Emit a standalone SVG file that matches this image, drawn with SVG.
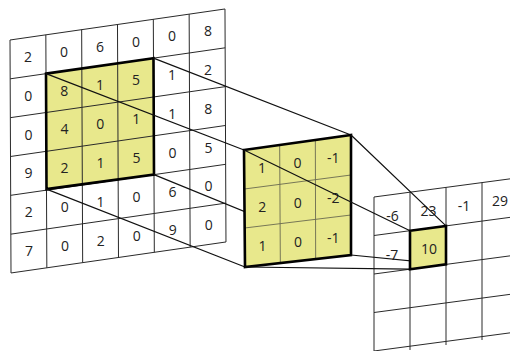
<svg xmlns="http://www.w3.org/2000/svg" width="510" height="351" viewBox="0 0 510 351">
<style>
.g{stroke:#2a2a2a;stroke-width:1;fill:none}
.gi{stroke:#6a6a50;stroke-width:0.9;fill:none}
.hl{fill:#e8e88c}
.bd{stroke:#000;stroke-width:2.6;fill:none;stroke-linejoin:miter}
.c{stroke:#111;stroke-width:1.2;fill:none}
text{font-family:"Open Sans","Noto Sans","Liberation Sans",sans-serif;font-size:14px;fill:#222;text-anchor:middle}
</style>
<rect width="510" height="351" fill="#fff"/>
<g id="input-grid">
<polygon class="hl" points="46,73.66 153.49,58.15 154,174.64 46.51,189.15"/>
<path class="g" d="M10,40L11,273M45.83,34.83L46.83,267.83M81.66,29.66L82.66,262.66M117.49,24.49L118.49,257.49M153.32,19.32L154.32,252.32M189.15,14.15L190.15,247.15M224.98,8.98L225.98,241.98M10,40L224.98,8.98M10.17,78.83L225.15,47.81M10.34,117.66L225.32,86.64M10.51,156.49L225.49,125.47M10.68,195.32L225.66,164.3M10.85,234.15L225.83,203.13M11.02,272.98L226,241.96"/>
<polygon class="bd" points="46,73.66 153.49,58.15 154,174.64 46.51,189.15"/>
<text x="28" y="62">2</text><text x="64" y="57">0</text><text x="100" y="52">6</text><text x="136" y="46.5">0</text><text x="172" y="41">0</text><text x="208" y="36">8</text>
<text x="28.2" y="100.7">0</text><text x="64.2" y="95.5">8</text><text x="100" y="90.3">1</text><text x="136" y="85.2">5</text><text x="172" y="80">1</text><text x="208" y="74.8">2</text>
<text x="28.4" y="139.5">0</text><text x="64.4" y="134.3">4</text><text x="100.2" y="129.2">0</text><text x="136.2" y="124">1</text><text x="172.2" y="118.8">1</text><text x="208.2" y="113.6">8</text>
<text x="28.6" y="178.3">9</text><text x="64.6" y="173.2">2</text><text x="100.4" y="168">1</text><text x="136.4" y="162.8">5</text><text x="172.4" y="157.6">0</text><text x="208.4" y="152.5">5</text>
<text x="28.8" y="217.2">2</text><text x="64.8" y="212">0</text><text x="100.6" y="206.8">1</text><text x="136.6" y="201.6">0</text><text x="172.6" y="196.5">6</text><text x="208.6" y="191.3">0</text>
<text x="29" y="256">7</text><text x="65" y="250.8">0</text><text x="100.8" y="245.6">2</text><text x="136.8" y="240.5">0</text><text x="172.8" y="235.3">9</text><text x="208.8" y="230.1">0</text>
</g>
<g id="connectors-in">
<path class="c" d="M46,73.66L244,150M153.49,58.15L351,135M46.51,189.15L245,267M154,174.64L351,255"/>
</g>
<g id="kernel">
<polygon class="hl" points="244,150 351,135 351,255 245,267"/>
<path class="gi" d="M279.67,145L280.33,263M315.33,140L315.67,259M244.33,189L351,175M244.67,228L351,215"/>
<polygon class="bd" points="244,150 351,135 351,255 245,267"/>
<text x="262" y="173">1</text><text x="297.5" y="168.3">0</text><text x="333.2" y="163.4">-1</text>
<text x="262.3" y="212.3">2</text><text x="297.8" y="207.8">0</text><text x="333.3" y="203.3">-2</text>
<text x="262.5" y="251.4">1</text><text x="297.9" y="247.3">0</text><text x="333.3" y="243.1">-1</text>
</g>
<g id="output-grid">
<path class="g" d="M374,197L374,351M410,192.2L410,350M446,187.4L446,345M482,182.6L482,340M374,197L518,177.8M374,235.5L518,216.3M374,274L518,254.8M374,312.5L518,293.3M374,351L518,331.8"/>
<text x="392.5" y="221">-6</text><text x="428.5" y="216">23</text><text x="464" y="210.5">-1</text><text x="500" y="205.5">29</text>
<text x="392" y="259.5">-7</text>
</g>
<g id="connectors-out">
<path class="c" d="M244,150L410,230.7M351,135L446,225.9M245,267L410,269.2M351,255L446,264.4"/>
</g>
<g id="output-cell">
<polygon class="hl" points="410,230.7 446,225.9 446,264.4 410,269.2"/>
<polygon class="bd" points="410,230.7 446,225.9 446,264.4 410,269.2"/>
<text x="429" y="253.5">10</text>
</g>
</svg>
